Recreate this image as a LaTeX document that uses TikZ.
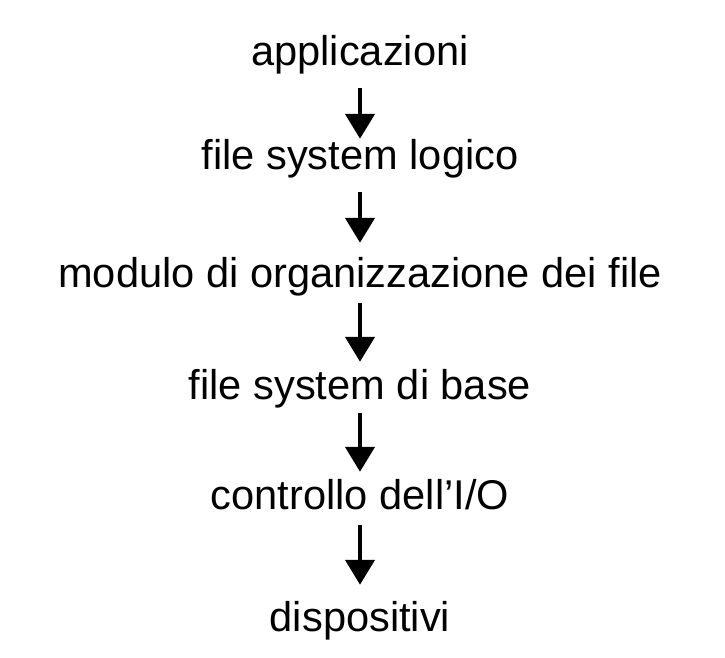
\documentclass[tikz,border=0pt]{standalone}
\usepackage{fontspec}
\setmainfont{Liberation Sans}
\usetikzlibrary{arrows.meta}

\tikzset{
    layer/.style={inner sep=0pt, anchor=base, text height=30pt, text depth=9pt,
        font=\fontsize{41.6pt}{50pt}\selectfont},
    down/.style={line width=4.5pt, -{Triangle[width=29pt,length=25pt]}}
}

\begin{document}
\begin{tikzpicture}[x=1pt,y=-1pt]
    \useasboundingbox (0,0) rectangle (725,658);

    % Layers
    \node[layer] (apps) at (360,66) {applicazioni};
    \node[layer] (fslog) at (360,169) {file system logico};
    \node[layer] (modorg) at (360,287) {modulo di organizzazione dei file};
    \node[layer] (fsbase) at (360,399) {file system di base};
    \node[layer] (ioctl) at (360,509) {controllo dell’I/O};
    \node[layer] (devs) at (360,631) {dispositivi};

    % Arrows
    \foreach \a/\b/\s/\e in {apps/fslog/13pt/0pt, fslog/modorg/14pt/14pt, modorg/fsbase/7pt/7pt,
                             fsbase/ioctl/5pt/7pt, ioctl/devs/7pt/16pt} {
        \draw[down, shorten <=\s, shorten >=\e] (\a.south) -- (\b.north);
    }
\end{tikzpicture}
\end{document}
